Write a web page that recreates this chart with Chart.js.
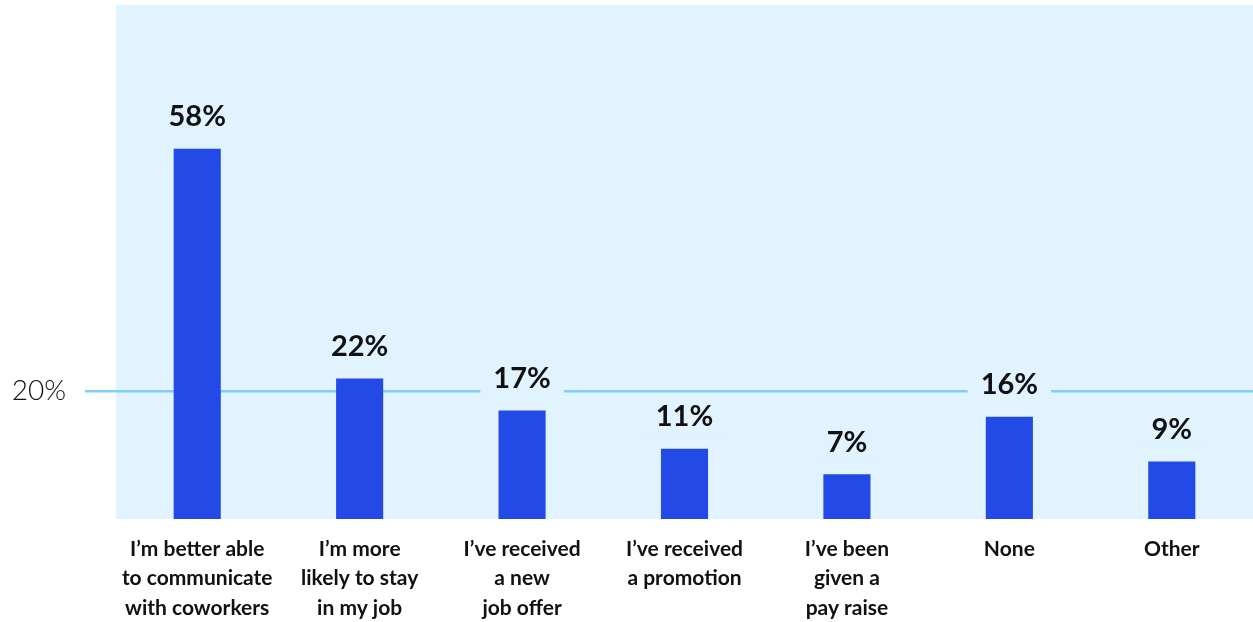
<!DOCTYPE html>
<html>
<head>
<meta charset="utf-8">
<script src="https://cdn.jsdelivr.net/npm/chart.js@4"></script>
<style>
  html, body { margin: 0; padding: 0; background: #fff; }
  #wrap { width: 1253px; height: 622px; }
</style>
</head>
<body>
<div id="wrap"><canvas id="chart"></canvas></div>
<script>
// data
const categories = [
    ['I\u2019m better able', 'to communicate', 'with coworkers'],
    ['I\u2019m more', 'likely to stay', 'in my job'],
    ['I\u2019ve received', 'a new', 'job offer'],
    ['I\u2019ve received', 'a promotion'],
    ['I\u2019ve been', 'given a', 'pay raise'],
    ['None'],
    ['Other']
];
const percents = [58, 22, 17, 11, 7, 16, 9];
const yTicks = [20];

const FONT = 'Lato, "Open Sans", sans-serif';
const PANEL = '#E1F3FE';

// light blue panel behind the plot
const panelBg = {
    id: 'panelBg',
    beforeDraw(chart) {
        const a = chart.chartArea, ctx = chart.ctx;
        ctx.save();
        ctx.fillStyle = PANEL;
        ctx.fillRect(a.left, a.top, chart.width - a.left, a.bottom - a.top);
        ctx.restore();
    }
};

// value labels above bars, with a panel-coloured box so the grid line breaks behind them
const valueLabels = {
    id: 'valueLabels',
    afterDatasetsDraw(chart) {
        const ctx = chart.ctx;
        const meta = chart.getDatasetMeta(0);
        ctx.save();
        ctx.font = 'bold 29px ' + FONT;
        ctx.textAlign = 'center';
        ctx.textBaseline = 'middle';
        meta.data.forEach((bar, i) => {
            const txt = percents[i] + '%';
            const cy = bar.y - 32;
            const w = ctx.measureText(txt).width + 26;
            ctx.fillStyle = PANEL;
            ctx.fillRect(bar.x - w / 2, cy - 16, w, 34);
            ctx.fillStyle = '#111';
            ctx.fillText(txt, bar.x, cy);
        });
        ctx.restore();
    }
};

new Chart(document.getElementById('chart'), {
    type: 'bar',
    data: {
        labels: categories,
        datasets: [{
            data: percents,
            backgroundColor: '#2349E6',
            barPercentage: 0.58,
            categoryPercentage: 0.5
        }]
    },
    options: {
        responsive: true,
        maintainAspectRatio: false,
        animation: false,
        layout: { padding: { top: 5, right: 0, left: 0, bottom: 0 } },
        plugins: {
            legend: { display: false },
            tooltip: { enabled: false }
        },
        scales: {
            x: {
                grid: { display: false, drawTicks: false },
                border: { display: false },
                afterFit(scale) {
                    scale.height = 103;
                },
                ticks: {
                    color: '#111',
                    font: { family: FONT, size: 21, weight: 'bold', lineHeight: 1.41 },
                    padding: 15,
                    maxRotation: 0,
                    autoSkip: false
                }
            },
            y: {
                min: 0,
                max: 80.5,
                afterBuildTicks(scale) {
                    scale.ticks = yTicks.map(v => ({ value: v }));
                },
                afterFit(scale) {
                    scale.width = 116;
                    scale.paddingTop = 0;
                    scale.paddingBottom = 0;
                },
                grid: {
                    color: '#7ED0FB',
                    lineWidth: 2.5,
                    tickLength: 31,
                    drawTicks: true
                },
                border: { display: false },
                ticks: {
                    color: '#111',
                    font: { family: FONT, size: 28, weight: '300' },
                    padding: 19,
                    callback: v => v + '%'
                }
            }
        }
    },
    plugins: [panelBg, valueLabels]
});
</script>
</body>
</html>
